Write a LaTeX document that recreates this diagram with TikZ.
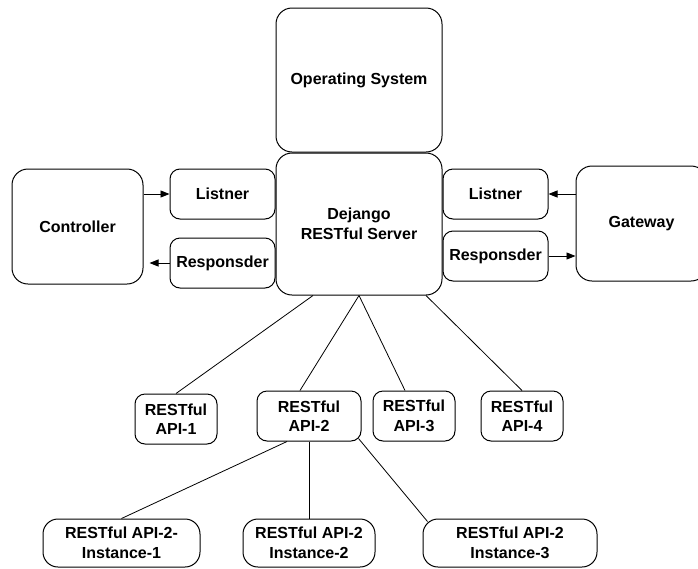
\documentclass[tikz,border=0pt]{standalone}
\usepackage{fontspec}
\setmainfont{Liberation Sans}
\usepackage{tikz}
\usetikzlibrary{arrows.meta,calc,positioning}

\begin{document}
\begin{tikzpicture}[x=1pt,y=-1pt,
    box/.style={draw,line width=1pt,rounded corners=#1,align=center,inner sep=0pt,
      font=\fontsize{16}{19.5}\selectfont\bfseries},
    box/.default=10pt,
    link/.style={line width=0.8pt},
    flow/.style={line width=0.9pt,-{Triangle[length=9pt,width=7pt]}}]
  \useasboundingbox (0,0) rectangle (698,568);
  \node [box=16pt,minimum width=166pt,minimum height=144pt] (os) at (359,80) {Operating System};
  \node [box=16pt,minimum width=166pt,minimum height=142pt] (server) at (359,224) {Dejango\\RESTful Server};
  \node [box=16pt,minimum width=131pt,minimum height=115pt] (ctrl) at (77.5,226.5) {Controller};
  \node [box,minimum width=105pt,minimum height=50pt] (lisL) at (222.5,194) {Listner};
  \node [box,minimum width=105pt,minimum height=50pt] (resL) at (222.5,263) {Responsder};
  \node [box,minimum width=105pt,minimum height=50pt] (lisR) at (495.5,194) {Listner};
  \node [box,minimum width=105pt,minimum height=50pt] (resR) at (495.5,256) {Responsder};
  \node [box=16pt,minimum width=131pt,minimum height=115pt] (gw) at (641.5,223.5) {Gateway};
  \node [box,minimum width=82pt,minimum height=50pt] (api1) at (176,419) {RESTful\\API-1};
  \node [box,minimum width=104pt,minimum height=50pt] (api2) at (309,416) {RESTful\\API-2};
  \node [box,minimum width=82pt,minimum height=50pt] (api3) at (414,416) {RESTful\\API-3};
  \node [box,minimum width=82pt,minimum height=50pt] (api4) at (522,416) {RESTful\\API-4};
  \node [box=15pt,minimum width=157pt,minimum height=48pt] (in1) at (121.5,543) {RESTful API-2-\\Instance-1};
  \node [box=15pt,minimum width=132pt,minimum height=48pt] (in2) at (309,543) {RESTful API-2\\Instance-2};
  \node [box=15pt,minimum width=174pt,minimum height=48pt] (in3) at (510,543) {RESTful API-2\\Instance-3};
  % listeners and responders
  \draw [flow] (ctrl.east |- lisL.west) -- (lisL.west);
  \draw [flow,shorten >=6pt] (resL.west) -- (ctrl.east |- resL.west);
  \draw [flow] (gw.west |- lisR.east) -- (lisR.east);
  \draw [flow] (resR.east) -- (gw.west |- resR.east);
  % server to the APIs
  \draw [link] ([xshift=-46pt]server.south) -- (api1.north);
  \draw [link] (server.south) -- ([xshift=-9pt]api2.north);
  \draw [link] (server.south) -- ([xshift=-9pt]api3.north);
  \draw [link] ([xshift=67pt]server.south) -- (api4.north);
  % API-2 to its instances
  \draw [link] ([xshift=-22pt]api2.south) -- (in1.north);
  \draw [link] (api2.south) -- (in2.north);
  \draw [link] ([xshift=-3pt,yshift=3pt]api2.south east) -- ([xshift=5pt,yshift=-3pt]in3.north west);
\end{tikzpicture}
\end{document}
